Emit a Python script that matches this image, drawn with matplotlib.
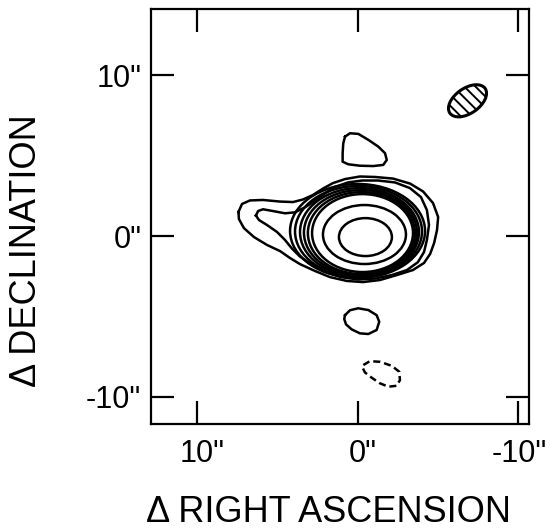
import numpy as np
import matplotlib
matplotlib.use("Agg")
import matplotlib.pyplot as plt
from matplotlib.patches import Ellipse
from matplotlib.transforms import ScaledTranslation

plt.rcParams['font.family'] = ['Liberation Sans', 'DejaVu Sans']
plt.rcParams['hatch.linewidth'] = 1.4

# ---- data (arcsec offsets) ----
# outermost contour with western extension
c1_x = [7.44, 7.22, 6.72, 5.91, 4.85, 4.04, 3.42, 2.80, 2.17, 1.55, 0.80, -0.13, -1.07, -2.19,
        -3.25, -4.06, -4.68, -5.00, -4.93, -4.75, -4.50, -4.12, -3.43, -2.44, -1.38, -0.32,
        0.68, 1.74, 2.67, 3.61, 4.23, 4.85, 5.66, 6.47, 7.10, 7.41]
c1_y = [1.50, 2.00, 2.22, 2.25, 2.15, 2.12, 2.28, 2.56, 2.96, 3.30, 3.55, 3.71, 3.68, 3.58,
        3.27, 2.78, 2.06, 1.19, 0.38, -0.43, -1.11, -1.67, -2.11, -2.42, -2.73, -2.86,
        -2.79, -2.55, -2.17, -1.74, -1.36, -0.93, -0.55, -0.06, 0.50, 1.06]
# second contour (inner western extension)
c2_x = [6.35, 6.22, 5.91, 5.29, 4.54, 3.92, 3.30, 2.74, 2.11, 1.43, 0.62, -0.26, -1.25, -2.31,
        -3.24, -3.93, -4.30, -4.43, -4.30, -4.12, -3.74, -3.06, -2.12, -1.07, -0.01, 1.05,
        2.05, 2.92, 3.61, 4.11, 4.54, 5.04, 5.66, 6.16]
c2_y = [1.28, 1.56, 1.67, 1.56, 1.42, 1.48, 1.79, 2.15, 2.62, 3.06, 3.34, 3.46, 3.46, 3.34,
        2.99, 2.43, 1.62, 0.69, -0.24, -0.99, -1.62, -2.11, -2.42, -2.64, -2.70, -2.55,
        -2.20, -1.74, -1.27, -0.77, -0.24, 0.26, 0.69, 1.00]
# nested core contours (centre x, centre y, full width, full height)
ring_cx = [0.02, -0.04, -0.10, -0.16, -0.22, -0.29, -0.41, -0.47]
ring_cy = [0.32, 0.29, 0.25, 0.22, 0.19, 0.19, 0.10, -0.06]
ring_w = [8.41, 7.91, 7.41, 7.04, 6.67, 6.29, 5.17, 3.30]
ring_h = [5.85, 5.66, 5.48, 5.29, 5.10, 4.85, 3.67, 2.36]
# northern island
n_x = [0.80, 0.49, -0.03, -0.65, -1.27, -1.69, -1.80, -1.58, -0.96, -0.13, 0.60, 0.95, 0.95, 0.91]
n_y = [6.19, 6.40, 6.36, 5.99, 5.57, 5.16, 4.74, 4.43, 4.36, 4.38, 4.47, 4.63, 5.16, 5.78]
# southern island
s_x = [0.80, 0.49, -0.02, -0.65, -1.17, -1.33, -1.17, -0.65, -0.13, 0.39, 0.74, 0.85]
s_y = [-4.92, -4.61, -4.49, -4.60, -4.92, -5.33, -5.84, -6.09, -6.05, -5.80, -5.49, -5.16]
# negative contour (dashed)
neg_x = [-0.34, -0.75, -1.38, -2.11, -2.58, -2.62, -2.42, -1.90, -1.38, -0.86, -0.44, -0.30]
neg_y = [-8.02, -7.78, -7.82, -8.07, -8.44, -8.96, -9.31, -9.37, -9.16, -8.81, -8.48, -8.20]
# beam
beam_x, beam_y, beam_w, beam_h, beam_angle = -6.83, 8.42, 2.68, 1.56, 145

xticks = [10, 0, -10]
xtick_labels = ['10"', '0"', '-10"']
yticks = [10, 0, -10]
ytick_labels = ['10"', '0"', '-10"']

# ---- figure ----
fig = plt.figure(figsize=(5.5, 5.31), dpi=100)
ax = fig.add_axes([0.2745, 0.2015, 0.6873, 0.7815])

lw = 1.8
def closed(x, y):
    return np.append(x, x[0]), np.append(y, y[0])

for xs, ys in [(c1_x, c1_y), (c2_x, c2_y), (n_x, n_y), (s_x, s_y)]:
    X, Y = closed(xs, ys)
    ax.plot(X, Y, color='black', lw=lw, solid_joinstyle='round')

X, Y = closed(neg_x, neg_y)
ax.plot(X, Y, color='black', lw=lw, dashes=(2.8, 1.6), dash_capstyle='butt')

for cx, cy, w, h in zip(ring_cx, ring_cy, ring_w, ring_h):
    ax.add_patch(Ellipse((cx, cy), w, h, fill=False, edgecolor='black', lw=lw))

ax.add_patch(Ellipse((beam_x, beam_y), beam_w, beam_h, angle=beam_angle,
                     facecolor='white', edgecolor='black', lw=2.2, hatch='\\\\\\'))

ax.set_xlim(12.89, -10.66)
ax.set_ylim(-11.69, 14.13)

ax.set_xticks(xticks)
ax.set_xticklabels(xtick_labels)
ax.set_yticks(yticks)
ax.set_yticklabels(ytick_labels)
ax.tick_params(direction='in', length=16.5, width=1.6, top=True, right=True,
               labelsize=22, colors='black')
ax.tick_params(axis='x', pad=11)
ax.tick_params(axis='y', pad=7)
for lab, dx in zip(ax.get_xticklabels(), [5, 5, 1]):
    lab.set_transform(lab.get_transform() + ScaledTranslation(dx / 100, 0, fig.dpi_scale_trans))
for sp in ax.spines.values():
    sp.set_linewidth(1.6)

fig.text(328 / 550, 1 - 513 / 531, 'Δ RIGHT ASCENSION', ha='center', va='center', fontsize=26)
fig.text(27 / 550, 1 - 251 / 531, 'Δ DECLINATION', ha='center', va='center', fontsize=26,
         rotation=90)

fig.savefig('out.png', dpi=100)
